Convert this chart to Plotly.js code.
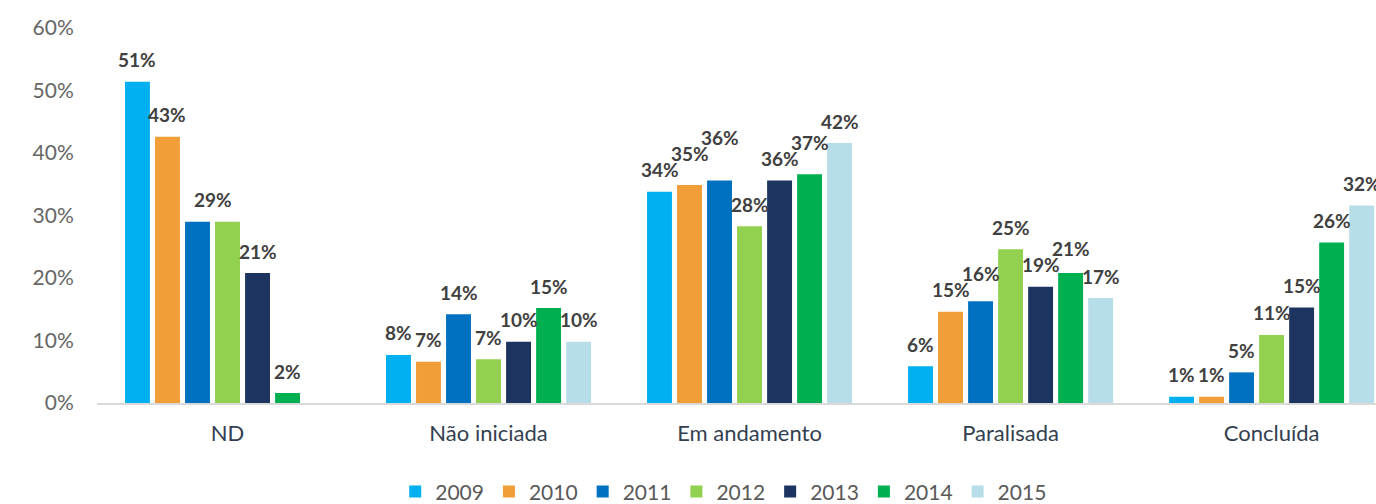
<!DOCTYPE html>
<html>
<head>
<meta charset="utf-8">
<script src="https://cdn.plot.ly/plotly-3.0.1.min.js"></script>
<style>
  html, body { margin: 0; padding: 0; background: #fff; }
  #chart { width: 1376px; height: 504px; }
</style>
</head>
<body>
<div id="chart"></div>
<script>
let categories = ['ND', 'Não iniciada', 'Em andamento', 'Paralisada', 'Concluída']
let years = ['2009', '2010', '2011', '2012', '2013', '2014', '2015']
let colors = ['#00b0f0', '#f19d38', '#0070c0', '#92d050', '#1d3461', '#00b050', '#b7dde8']

// percent per year, in category order
let v2009 = [51.4, 7.7, 33.8, 5.9, 1.0]
let v2010 = [42.6, 6.6, 34.9, 14.6, 1.0]
let v2011 = [29.0, 14.2, 35.6, 16.3, 4.9]
let v2012 = [29.0, 7.0, 28.3, 24.6, 10.9]
let v2013 = [20.8, 9.8, 35.6, 18.6, 15.3]
let v2014 = [1.6, 15.2, 36.6, 20.8, 25.7]
let v2015 = [null, 9.8, 41.6, 16.8, 31.6]

let series = [v2009, v2010, v2011, v2012, v2013, v2014, v2015]
let font = 'Lato, "Open Sans", sans-serif'

let margin = { l: 97, r: 0, t: 28, b: 101 }
let W = 1376, H = 504
let xRange = [-0.5, 4.4], yRange = [0, 60]
let bargap = 0.195
let labelSize = 19

let traceArr = []
series.forEach((set, index) => {
    traceArr.push({
        x: categories,
        y: set,
        type: 'bar',
        name: years[index],
        marker: { color: colors[index] },
        hoverinfo: 'skip'
    })
})

// data labels, placed a bit like excel does: merge equal neighbours that would collide,
// lift a label above its left neighbour when they overlap
let pxPerCat = (W - margin.l - margin.r) / (xRange[1] - xRange[0])
let pxPerUnit = (H - margin.t - margin.b) / (yRange[1] - yRange[0])
let slot = (1 - bargap) / series.length
let slotPx = slot * pxPerCat
let gap = 22, lineH = 16
let textW = s => s.replace('%', '').length * labelSize * 0.56 + labelSize * 0.85

let annotations = []
categories.forEach((cat, c) => {
    let items = []
    for (let i = 0; i < series.length; i++) {
        let v = series[i][c]
        if (v == null) continue
        let t = Math.round(v) + '%'
        let nv = i + 1 < series.length ? series[i + 1][c] : null
        if (nv != null && Math.round(nv) + '%' === t && Math.abs(nv - v) < 0.3 && textW(t) > slotPx) {
            items.push({ pos: i + 0.5, v: Math.max(v, nv), t: t })
            i++
        } else {
            items.push({ pos: i, v: v, t: t })
        }
    }
    let prev = null
    items.forEach(it => {
        it.x = it.pos * slotPx
        it.y = it.v * pxPerUnit + gap
        it.w = textW(it.t)
        if (prev && Math.abs(prev.x - it.x) < (prev.w + it.w) / 2 && Math.abs(prev.y - it.y) < lineH) {
            it.y = prev.y + lineH
        }
        prev = it
        annotations.push({
            x: c + (it.pos - (series.length - 1) / 2) * slot,
            y: it.v,
            xref: 'x',
            yref: 'y',
            yshift: it.y - it.v * pxPerUnit,
            yanchor: 'middle',
            text: it.t,
            showarrow: false,
            font: { family: font, size: labelSize, color: '#404040', weight: 'bold' }
        })
    })
})

let layout = {
    width: W,
    height: H,
    margin: margin,
    paper_bgcolor: '#fff',
    plot_bgcolor: '#fff',
    barmode: 'group',
    bargap: bargap,
    bargroupgap: 0.17,
    font: { family: font, color: '#595959' },
    annotations: annotations,
    xaxis: {
        type: 'category',
        range: xRange,
        showgrid: false,
        showline: true,
        linecolor: '#d9d9d9',
        linewidth: 2,
        ticks: 'outside',
        ticklen: 10,
        tickcolor: 'rgba(0,0,0,0)',
        tickfont: { family: font, size: 22, color: '#333f50' },
        automargin: false,
        fixedrange: true
    },
    yaxis: {
        range: yRange,
        dtick: 10,
        ticksuffix: '%',
        showgrid: false,
        zeroline: false,
        showline: false,
        ticks: 'outside',
        ticklen: 18,
        tickcolor: 'rgba(0,0,0,0)',
        tickfont: { family: font, size: 21, color: '#666666' },
        automargin: false,
        fixedrange: true
    },
    showlegend: true,
    legend: {
        orientation: 'h',
        xref: 'paper',
        x: 0.49,
        xanchor: 'center',
        yref: 'container',
        y: 0.024,
        yanchor: 'middle',
        itemwidth: 30,
        font: { family: font, size: 21, color: '#595959' },
        traceorder: 'normal'
    }
}

Plotly.newPlot('chart', traceArr, layout, { displayModeBar: false, staticPlot: true })
</script>
</body>
</html>
